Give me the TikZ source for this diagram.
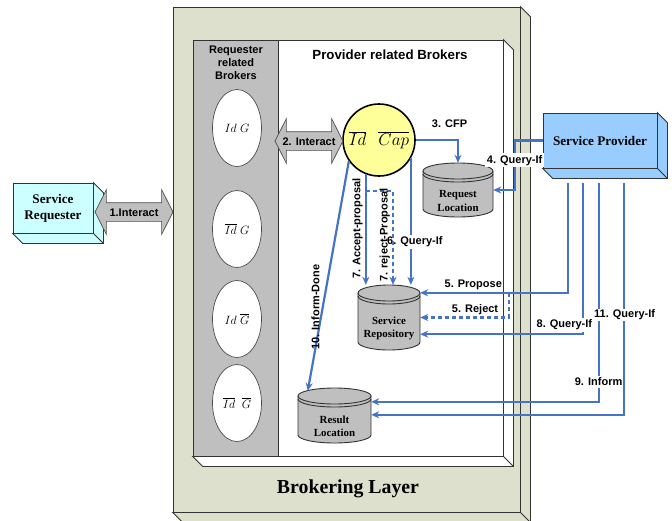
\documentclass[tikz,border=0pt]{standalone}
\usepackage{fontspec}
\setmainfont{Liberation Serif}
\setsansfont{Liberation Sans}
\usepackage{tikz}
\usetikzlibrary{arrows.meta,calc,positioning,shapes.geometric,shapes.arrows}

\definecolor{layerolive}{RGB}{221,224,204}
\definecolor{brokergray}{RGB}{191,191,191}
\definecolor{flowblue}{RGB}{70,116,196}
\definecolor{reqcyan}{RGB}{204,255,255}
\definecolor{provblue}{RGB}{153,204,255}
\definecolor{matchyellow}{RGB}{255,255,153}

% cylindre : nom, x, y, demi-largeur, demi-hauteur, texte
\newcommand{\drum}[6]{%
  \draw[drumline] (#2-#4,#3-#5+8) -- (#2-#4,#3+#5-8)
    arc[start angle=180,end angle=360,x radius=#4pt,y radius=8pt]
    -- (#2+#4,#3-#5+8)
    arc[start angle=0,end angle=180,x radius=#4pt,y radius=8pt] -- cycle;
  \draw[drumline, fill=none] (#2-#4,#3-#5+8)
    arc[start angle=180,end angle=360,x radius=#4pt,y radius=8pt]
    (#2-#4,#3-#5+11)
    arc[start angle=180,end angle=360,x radius=#4pt,y radius=8pt];
  \node[drumnode, minimum width=2*#4, minimum height=2*#5,
    label={[drumtext]center:{#6}}] (#1) at (#2,#3) {};
}

% faces en relief d'une boite
\newcommand{\sidefaces}[2]{%
  \draw[fill=#2, draw=black!80, line width=.8pt] (#1.north east) -- ++(10,10)
    -- ($(#1.south east)+(10,10)$) -- ($(#1.south west)+(10,10)$)
    -- (#1.south west) -- (#1.south east) -- cycle;
  \draw[draw=black!80, line width=.8pt] (#1.south east) -- ++(10,10);
}

\begin{document}
\begin{tikzpicture}[
    x=1pt, y=-1pt,
    layerbox/.style={rectangle, draw=black!80, fill=layerolive, line width=.8pt, inner sep=0},
    panelbox/.style={rectangle, draw=black!80, fill=white, line width=.8pt, inner sep=0},
    colbox/.style={rectangle, draw=black!80, fill=brokergray, line width=.8pt, inner sep=0},
    coltitle/.style={font=\sffamily\bfseries\fontsize{11}{13}\selectfont, align=center},
    provtitle/.style={font=\sffamily\bfseries\fontsize{13.3}{15}\selectfont},
    layertitle/.style={font=\bfseries\fontsize{19.8}{22}\selectfont},
    idnode/.style={ellipse, draw=black!70, fill=white, line width=.7pt, minimum width=49, minimum height=77, inner sep=0, font=\fontsize{12}{14}\selectfont},
    matchnode/.style={circle, draw=black, line width=1.6pt, fill=matchyellow, minimum size=72, inner sep=0, font=\fontsize{17.28}{20}\selectfont},
    interact/.style={double arrow, draw=black!70, fill=brokergray, line width=.7pt, font=\sffamily\bfseries\fontsize{11}{12}\selectfont, inner xsep=1pt, inner ysep=5pt, text height=8pt, text depth=0pt, double arrow head extend=13pt, double arrow tip angle=126},
    actorbox/.style={rectangle, draw=black!80, line width=.8pt, inner sep=0, align=center, font=\bfseries\fontsize{13.2}{16}\selectfont},
    drumline/.style={draw=black!80, fill=brokergray, line width=.9pt},
    drumnode/.style={rectangle, inner sep=0},
    drumtext/.style={font=\bfseries\fontsize{10.9}{13.5}\selectfont, align=center, yshift=-11pt},
    flow/.style={draw=flowblue, line width=2.2pt, -{Stealth[length=8pt,width=7pt]}},
    rejectflow/.style={flow, dash pattern=on 4pt off 3pt},
    lbl/.style={font=\sffamily\bfseries\fontsize{11}{12}\selectfont, inner sep=2pt, text=black}
    ]
    \useasboundingbox (0,0) rectangle (672,520);

    % La couche de courtage
    \node[layerbox, minimum width=347, minimum height=505] (layer) at (346.5,259.5) {};
    \sidefaces{layer}{layerolive}
    \node[panelbox, minimum width=310, minimum height=416] (panel) at (348,248) {};
    \sidefaces{panel}{white}
    \node[colbox, minimum width=85, minimum height=416] (col) at (235.5,248) {};
    \node[coltitle] (reqtitle) at (236,63) {Requester\\related\\Brokers};
    \node[provtitle] (provtitle) at (390,55) {Provider related Brokers};

    % Les courtiers
    \node[idnode] (e1) at (237,128) {$Id\;G$};
    \node[idnode] (e2) at (237,229) {$\overline{Id}\;G$};
    \node[idnode] (e3) at (237,319) {$Id\;\overline{G}$};
    \node[idnode] (e4) at (237,403) {$\overline{Id}\;\;\overline{G}$};

    % Les bases
    \drum{req}{458}{190}{35}{27}{Request\\Location}
    \drum{repo}{389}{317.5}{31}{32.5}{Service\\Repository}
    \drum{res}{334.5}{415.5}{36.5}{27.5}{Result\\Location}

    \node[matchnode] (match) at (379,140) {$\overline{Id}\hspace{12pt}\overline{Cap}$};

    % Les acteurs
    \node[actorbox, fill=reqcyan, minimum width=80, minimum height=50] (sr) at (53,208) {Service\\Requester};
    \sidefaces{sr}{reqcyan}
    \node[actorbox, fill=provblue, minimum width=114, minimum height=55] (sp) at (600,140.5) {Service Provider};
    \sidefaces{sp}{provblue}

    % Les interactions
    \node[interact, minimum height=68] (ia2) at (309,141) {2. Interact};
    \node[interact, minimum height=78] (ia1) at (134,212) {1.Interact};

    % Les messages
    \draw[flow] (match.east) -| node[lbl, above=9pt, pos=0.4] {3. CFP} (req.north);
    \draw[flow] (sp.west) -- ++(-28,0) |- node[lbl, fill=white, pos=0.2] {4. Query-If} (req.east);
    \draw[flow] (match.-111) -- node[lbl, rotate=90, above=1pt] {7. Accept-proposal} coordinate[pos=0.15] (rj) (match.-111 |- repo.north);
    \draw[flow] (match.-30) -- node[lbl, fill=white, pos=0.66, xshift=4pt] {6. Query-If} (match.-30 |- repo.north);
    \draw[rejectflow] (rj) -| node[lbl, rotate=90, above=1pt, pos=0.74] {7. reject-Proposal} ($(repo.north)+(4,0)$);
    \draw[flow] (match.-145) -- node[lbl, rotate=90, above=1pt, pos=0.64] {10. Inform-Done} ($(res.north west)+(10,3)$);
    \draw[flow] ($(sp.south west)+(25,15)$) |- node[lbl, above=0pt, pos=0.82] {5. Propose} coordinate[pos=0.7] (rp) ($(repo.north east)+(0,8)$);
    \draw[rejectflow] (rp) |- node[lbl, above=0pt, pos=0.69] {5. Reject} (repo.east);
    \draw[flow] ($(sp.south west)+(40,15)$) |- node[lbl, fill=white, above=1pt, pos=0.55, xshift=-2pt] {8. Query-If} ($(repo.south east)+(0,-16)$);
    \draw[flow] ($(sp.south west)+(56,15)$) |- node[lbl, fill=white, pos=0.454] {9. Inform} ($(res.north east)+(0,14)$);
    \draw[flow] ($(sp.south west)+(81,15)$) |- node[lbl, fill=white, inner sep=1pt, pos=0.284, xshift=1pt] {11. Query-If} ($(res.north east)+(0,27)$);

    \node[layertitle] (brokering) at (348,489) {Brokering Layer};
\end{tikzpicture}
\end{document}
